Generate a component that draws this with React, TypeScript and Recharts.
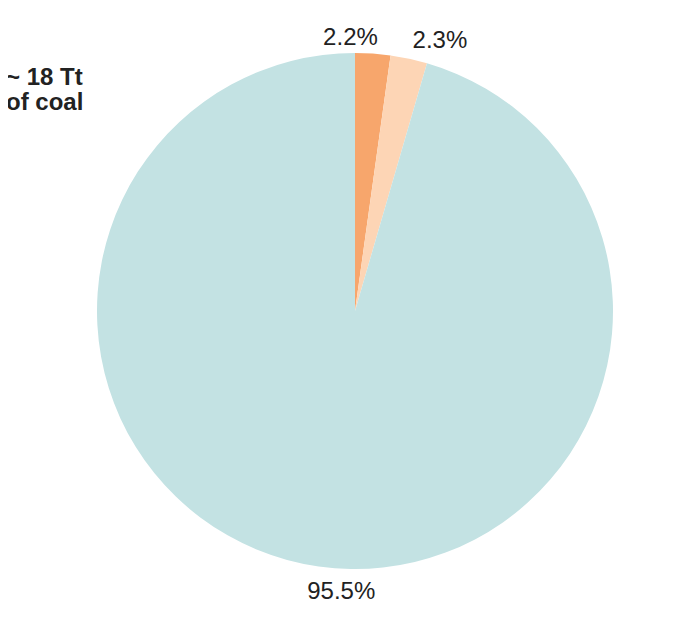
import React from 'react';
import { PieChart, Pie, Cell } from 'recharts';

// shares of the coal total, clockwise from 12 o'clock
const sliceNames = ['Group A', 'Group B', 'Remaining'];
const sliceValues = [2.2, 2.3, 95.5];
const sliceLabels = ['2.2%', '2.3%', '95.5%'];
const titleLines = ['~ 18 Tt', 'of coal'];

const SLICE_COLORS = ['#F7A66C', '#FDD5B5', '#C3E2E3'];
const RAD = Math.PI / 180;
// hand-tuned label nudges (the original places them by eye)
const LABEL_NUDGE = [
  [-24, 15],
  [26, 13],
  [26, 9]
];

const data = sliceNames.map((name, i) => ({ name, value: sliceValues[i] }));

const renderLabel = (props: any) => {
  const { cx, cy, midAngle, outerRadius, index } = props;
  const r = outerRadius + 24;
  const [dx, dy] = LABEL_NUDGE[index] || [0, 0];
  const x = cx + r * Math.cos(-midAngle * RAD) + dx;
  const y = cy + r * Math.sin(-midAngle * RAD) + dy;
  return (
    <text
      x={x}
      y={y}
      textAnchor="middle"
      fill="#222"
      fontSize={24}
      fontFamily="'Liberation Sans', Arial, sans-serif"
    >
      {sliceLabels[index]}
    </text>
  );
};

export default function App() {
  return (
    <div style={{ position: 'relative', width: 681, height: 614 }}>
      <PieChart width={681} height={614} margin={{ top: 0, right: 0, bottom: 0, left: 0 }}>
        <Pie
          data={data}
          dataKey="value"
          nameKey="name"
          cx={347}
          cy={303}
          outerRadius={258}
          startAngle={90}
          endAngle={-270}
          stroke="none"
          label={renderLabel}
          labelLine={false}
          isAnimationActive={false}
        >
          {data.map((d, i) => (
            <Cell key={d.name} fill={SLICE_COLORS[i]} />
          ))}
        </Pie>
      </PieChart>
      <div
        style={{
          position: 'absolute',
          left: -2,
          top: 56,
          zIndex: 1,
          fontFamily: "'Liberation Sans', Arial, sans-serif",
          fontWeight: 'bold',
          fontSize: 24,
          lineHeight: '25px',
          color: '#222',
          whiteSpace: 'nowrap'
        }}
      >
        {titleLines.map((t) => (
          <div key={t}>{t}</div>
        ))}
      </div>
    </div>
  );
}
